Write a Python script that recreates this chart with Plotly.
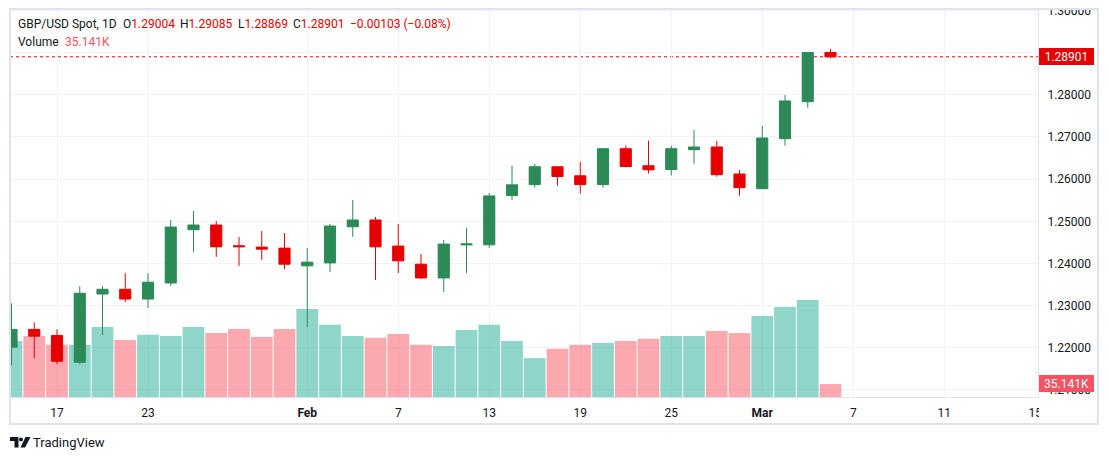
import plotly.graph_objects as go

# ---------------- data ----------------
dates = ["2025-01-15", "2025-01-16", "2025-01-17", "2025-01-20", "2025-01-21", "2025-01-22",
         "2025-01-23", "2025-01-24", "2025-01-27", "2025-01-28", "2025-01-29", "2025-01-30",
         "2025-01-31", "2025-02-03", "2025-02-04", "2025-02-05", "2025-02-06", "2025-02-07",
         "2025-02-10", "2025-02-11", "2025-02-12", "2025-02-13", "2025-02-14", "2025-02-17",
         "2025-02-18", "2025-02-19", "2025-02-20", "2025-02-21", "2025-02-24", "2025-02-25",
         "2025-02-26", "2025-02-27", "2025-02-28", "2025-03-03", "2025-03-04", "2025-03-05",
         "2025-03-06"]

open_ = [1.22014, 1.22436, 1.22293, 1.21657, 1.23276, 1.23388, 1.23157, 1.23538, 1.24800,
         1.24912, 1.24420, 1.24388, 1.24364, 1.23943, 1.24014, 1.24871, 1.25031, 1.24412,
         1.23983, 1.23657, 1.24440, 1.24443, 1.25610, 1.25871, 1.26293, 1.26079, 1.25871,
         1.26721, 1.26317, 1.26229, 1.26698, 1.26762, 1.26122, 1.25773, 1.26959, 1.27836,
         1.29004]
high = [1.23055, 1.22602, 1.22436, 1.23460, 1.23460, 1.23769, 1.23769, 1.25031, 1.25245,
        1.25007, 1.24626, 1.24769, 1.24721, 1.24364, 1.24936, 1.25507, 1.25102, 1.24936,
        1.24221, 1.24555, 1.24840, 1.25674, 1.26317, 1.26364, 1.26300, 1.26412, 1.26730,
        1.26793, 1.26912, 1.26793, 1.27165, 1.26904, 1.26217, 1.27260, 1.27995, 1.29015,
        1.29085]
low = [1.21586, 1.21752, 1.21610, 1.21610, 1.22300, 1.23086, 1.22943, 1.23467, 1.24276,
       1.24157, 1.23943, 1.24086, 1.23864, 1.22490, 1.23800, 1.24633, 1.23610, 1.23776,
       1.23633, 1.23324, 1.23776, 1.24371, 1.25507, 1.25800, 1.25848, 1.25657, 1.25800,
       1.26276, 1.26133, 1.26086, 1.26366, 1.26058, 1.25607, 1.25773, 1.26793, 1.27694,
       1.28869]
close = [1.22436, 1.22276, 1.21681, 1.23293, 1.23388, 1.23157, 1.23555, 1.24864, 1.24912,
         1.24395, 1.24398, 1.24340, 1.23983, 1.24031, 1.24888, 1.25031, 1.24395, 1.24062,
         1.23657, 1.24460, 1.24462, 1.25602, 1.25864, 1.26293, 1.26062, 1.25871, 1.26721,
         1.26300, 1.26221, 1.26721, 1.26762, 1.26105, 1.25797, 1.26975, 1.27853, 1.29004,
         1.28901]
volume_k = [151, 165, 141, 141, 189, 154, 168, 165, 189, 173, 184, 162, 184, 238, 195, 165,
            160, 170, 141, 138, 181, 195, 151, 105, 130, 141, 146, 151, 157, 165, 165, 178,
            173, 219, 243, 262, 35.141]

tick_bars = [2, 6, 13, 17, 21, 25, 29, 33, 37, 41, 45]
tick_labels = ["17", "23", "<b>Feb</b>", "7", "13", "19", "25", "<b>Mar</b>", "7", "11", "15"]
price_ticks = [1.21, 1.22, 1.23, 1.24, 1.25, 1.26, 1.27, 1.28, 1.29, 1.30]
price_tick_text = ["1.21000", "1.22000", "1.23000", "1.24000", "1.25000", "1.26000",
                   "1.27000", "1.28000", "", "1.30000"]

# ---------------- style ----------------
W, H = 1109, 460
PL, PR, PT, PB = 10, 1038, 9, 397          # plot area in pixels
GREEN = "#2B8A56"
RED = "#E60000"
VOL_UP = "rgba(34,171,148,0.5)"
VOL_DN = "rgba(247,82,95,0.5)"
TXT = "#131722"
GRID = "#F0F3FA"
BORDER = "#E0E3EB"
FONT = "Roboto"

bar_px = 22.75
x0 = -1.5 / bar_px
x1 = x0 + (PR - PL) / bar_px
y_rng = [1.208335, 1.300344]
vol_top = 4 * max(volume_k)


def px(x):
    return (x - PL) / (PR - PL)


def py(y):
    return (PB - y) / (PB - PT)


idx = list(range(len(dates)))
vol_colors = [VOL_UP if c >= o else VOL_DN for o, c in zip(open_, close)]

fig = go.Figure()
fig.add_trace(go.Bar(x=idx, y=volume_k, marker=dict(color=vol_colors, line=dict(width=0)),
                     yaxis="y", hoverinfo="skip"))
fig.add_trace(go.Candlestick(
    x=idx, open=open_, high=high, low=low, close=close, yaxis="y2",
    increasing=dict(line=dict(color=GREEN, width=1), fillcolor=GREEN),
    decreasing=dict(line=dict(color=RED, width=1), fillcolor=RED),
    whiskerwidth=0, hoverinfo="skip"))

shapes = []
# last price dotted line
shapes.append(dict(type="line", xref="x", yref="y2", x0=x0, x1=x1, y0=close[-1], y1=close[-1],
                   line=dict(color=RED, width=1, dash="dot"), layer="below"))
# white covers to clip labels like the reference
shapes.append(dict(type="rect", xref="paper", yref="paper", x0=px(PR + 1), x1=px(W),
                   y0=py(8.5), y1=py(0), fillcolor="white", line=dict(width=0), layer="above"))
shapes.append(dict(type="rect", xref="paper", yref="paper", x0=px(PR + 1), x1=px(1097),
                   y0=py(423), y1=py(PB + 1), fillcolor="white", line=dict(width=0), layer="above"))
# outer frame
shapes.append(dict(type="rect", xref="paper", yref="paper", x0=px(10), x1=px(1098),
                   y0=py(424), y1=py(9), line=dict(color=BORDER, width=2), layer="above"))
# TradingView logo
logo_t = "M {} {} L {} {} L {} {} L {} {} L {} {} L {} {} Z".format(
    px(10), py(437), px(18.5), py(437), px(18.5), py(447.5), px(14.5), py(447.5),
    px(14.5), py(441), px(10), py(441))
shapes.append(dict(type="path", xref="paper", yref="paper", path=logo_t,
                   fillcolor=TXT, line=dict(width=0), layer="above"))
logo_v = "M {} {} L {} {} L {} {} L {} {} Z".format(
    px(25.5), py(437), px(30.5), py(437), px(25), py(447.5), px(20.5), py(447.5))
shapes.append(dict(type="path", xref="paper", yref="paper", path=logo_v,
                   fillcolor=TXT, line=dict(width=0), layer="above"))
shapes.append(dict(type="circle", xref="paper", yref="paper", x0=px(19), x1=px(23),
                   y0=py(441.5), y1=py(437.5), fillcolor=TXT, line=dict(width=0), layer="above"))

ann = []


def txt(x, y, s, color=TXT, size=12):
    ann.append(dict(x=px(x), y=py(y), xref="paper", yref="paper", text=s, showarrow=False,
                    xanchor="left", yanchor="middle", borderpad=0, borderwidth=0,
                    font=dict(family=FONT, size=size, color=color)))


def red(s):
    return "<span style='color:%s'>%s</span>" % (RED, s)


txt(18, 24.5, "GBP/USD Spot, 1D")
txt(123, 24.5, "O" + red("%.5f" % open_[-1]))
txt(180, 24.5, "H" + red("%.5f" % high[-1]))
txt(237.5, 24.5, "L" + red("%.5f" % low[-1]))
txt(293, 24.5, "C" + red("%.5f" % close[-1]))
chg = close[-1] - close[-2]
txt(350, 24.5, red("\u2212%.5f (\u2212%.2f%%)" % (abs(chg), abs(chg) / close[-2] * 100)))
txt(18, 42, "Volume")
txt(65, 42, "%.3fK" % volume_k[-1], color="#F7525F")
txt(33, 442, "TradingView", size=13)

# price label boxes
ann.append(dict(x=px(1066.5), y=close[-1], xref="paper", yref="y2", text="%.5f" % close[-1],
                showarrow=False, xanchor="center", yanchor="middle", bgcolor=RED,
                borderpad=2, borderwidth=0, width=51, height=13,
                font=dict(family=FONT, size=12, color="white")))
ann.append(dict(x=px(1066.5), y=volume_k[-1], xref="paper", yref="y", text="%.3fK" % volume_k[-1],
                showarrow=False, xanchor="center", yanchor="middle", bgcolor="#F7525F",
                borderpad=2, borderwidth=0, width=51, height=13,
                font=dict(family=FONT, size=12, color="white")))

fig.update_layout(
    width=W, height=H,
    margin=dict(l=PL, r=W - PR, t=PT, b=H - PB, autoexpand=False),
    paper_bgcolor="white", plot_bgcolor="white",
    showlegend=False, bargap=0.045,
    font=dict(family=FONT, size=12, color=TXT),
    xaxis=dict(range=[x0, x1], tickmode="array", tickvals=tick_bars, ticktext=tick_labels,
               showgrid=True, gridcolor=GRID, gridwidth=1, zeroline=False,
               showline=True, linecolor=BORDER, linewidth=1, ticks="",
               ticklabelstandoff=5, rangeslider=dict(visible=False), automargin=False,
               tickfont=dict(family=FONT, size=12, color=TXT), fixedrange=True),
    yaxis=dict(range=[0, vol_top], visible=False, fixedrange=True, automargin=False),
    yaxis2=dict(range=y_rng, overlaying="y", side="right", tickmode="array",
                tickvals=price_ticks, ticktext=price_tick_text,
                showgrid=True, gridcolor=GRID, gridwidth=1, zeroline=False,
                showline=True, linecolor=BORDER, linewidth=1, ticks="",
                ticklabelstandoff=6, tickfont=dict(family=FONT, size=12, color=TXT),
                fixedrange=True, automargin=False),
    shapes=shapes, annotations=ann,
)

fig.write_html("out.html", config={"displayModeBar": False},
               post_script="document.body.style.margin='0';document.body.style.overflow='hidden';")
